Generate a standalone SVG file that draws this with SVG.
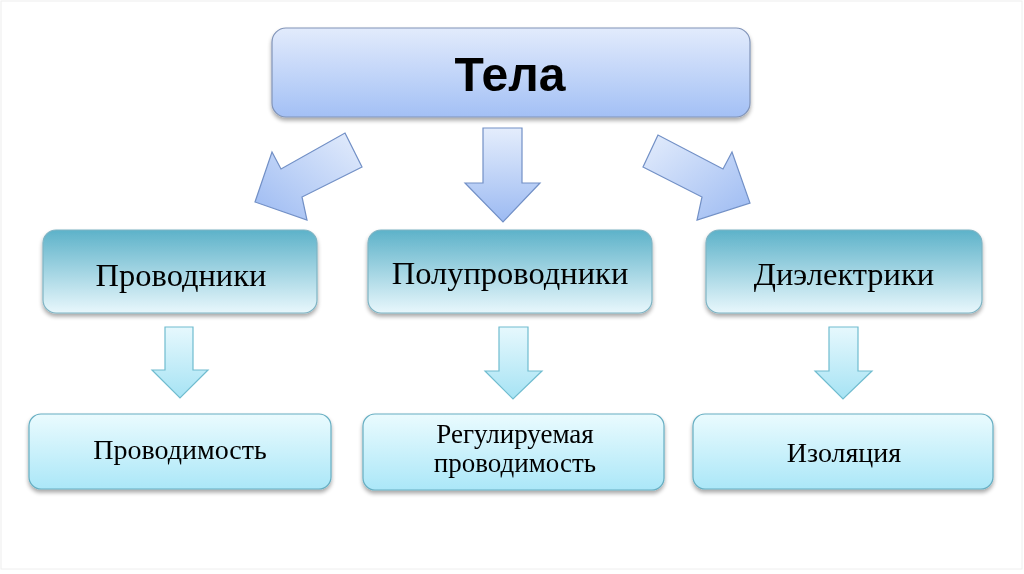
<svg xmlns="http://www.w3.org/2000/svg" width="1024" height="574" viewBox="0 0 1024 574">
<defs>
<linearGradient id="gTop" x1="0" y1="0" x2="0" y2="1">
<stop offset="0" stop-color="#e2ebfc"/><stop offset="1" stop-color="#a3c0f5"/>
</linearGradient>
<linearGradient id="gMid" x1="0" y1="0" x2="0" y2="1">
<stop offset="0" stop-color="#5db2c9"/><stop offset="1" stop-color="#e8f7fc"/>
</linearGradient>
<linearGradient id="gBot" x1="0" y1="0" x2="0" y2="1">
<stop offset="0" stop-color="#eafbfe"/><stop offset="1" stop-color="#abe7f8"/>
</linearGradient>
<linearGradient id="gArr" x1="0" y1="0" x2="0" y2="1">
<stop offset="0" stop-color="#e4edfc"/><stop offset="1" stop-color="#9cbaf2"/>
</linearGradient>
<linearGradient id="gArrL" x1="1" y1="0" x2="0" y2="1">
<stop offset="0" stop-color="#e4edfc"/><stop offset="1" stop-color="#9cbaf2"/>
</linearGradient>
<linearGradient id="gArrR" x1="0" y1="0" x2="1" y2="1">
<stop offset="0" stop-color="#e4edfc"/><stop offset="1" stop-color="#9cbaf2"/>
</linearGradient>
<linearGradient id="gSm" x1="0" y1="0" x2="0" y2="1">
<stop offset="0" stop-color="#e6f8fd"/><stop offset="1" stop-color="#a6e3f4"/>
</linearGradient>
<filter id="sh" x="-10%" y="-20%" width="120%" height="150%">
<feGaussianBlur in="SourceAlpha" stdDeviation="2"/>
<feOffset dx="0" dy="3" result="b"/>
<feComponentTransfer><feFuncA type="linear" slope="0.35"/></feComponentTransfer>
<feMerge><feMergeNode/><feMergeNode in="SourceGraphic"/></feMerge>
</filter>
</defs>
<style>
.top{fill:url(#gTop);stroke:#8194b8;stroke-width:1.2}
.mid{fill:url(#gMid);stroke:#7fb4c4;stroke-width:1.2}
.bot{fill:url(#gBot);stroke:#66aec2;stroke-width:1.2}
.arr{stroke:#7290c6;stroke-width:1.2}
.sm{fill:url(#gSm);stroke:#70bccf;stroke-width:1.2}
.t1{font-family:"Liberation Sans",Arial,sans-serif;font-weight:bold;font-size:48px;fill:#000}
.t2{font-family:"Liberation Serif","Times New Roman",serif;font-size:32.5px;fill:#000}
.t3{font-family:"Liberation Serif","Times New Roman",serif;font-size:28px;fill:#000}
.t4{font-family:"Liberation Serif","Times New Roman",serif;font-size:27px;fill:#000}
</style>
<rect x="1" y="1" width="1021" height="568" fill="#fff" stroke="#eeeeee" stroke-width="1"/>

<g id="connectors">
<polygon class="arr" fill="url(#gArrL)" points="345,133 362,167 302,197 307,220 255,202 272,152 281,169"/>
<polygon class="arr" fill="url(#gArr)" points="483,128 522,128 522,183 540,183 503,222 465,183 483,183"/>
<polygon class="arr" fill="url(#gArrR)" points="658,135 643,167 702,197 697,220 750,203 732,152 723,169"/>
<polygon class="sm" points="165,327 193,327 193,370 208,370 180,398 152,370 165,370"/>
<polygon class="sm" points="499,327 528,327 528,371 542,371 513,399 485,371 499,371"/>
<polygon class="sm" points="829,327 858,327 858,371 872,371 843,399 815,371 829,371"/>
</g>

<g id="node-tela" filter="url(#sh)">
<rect class="top" x="272" y="28" width="478" height="89" rx="14"/>
<text class="t1" x="510" y="91" text-anchor="middle">Тела</text>
</g>

<g id="node-provodniki" filter="url(#sh)">
<rect class="mid" x="43" y="230" width="274" height="83" rx="13"/>
<text class="t2" x="181" y="286" text-anchor="middle">Проводники</text>
</g>
<g id="node-poluprovodniki" filter="url(#sh)">
<rect class="mid" x="368" y="230" width="284" height="83" rx="13"/>
<text class="t2" x="510" y="284" text-anchor="middle">Полупроводники</text>
</g>
<g id="node-dielektriki" filter="url(#sh)">
<rect class="mid" x="706" y="230" width="276" height="83" rx="13"/>
<text class="t2" x="844" y="285" text-anchor="middle">Диэлектрики</text>
</g>

<g id="node-provodimost" filter="url(#sh)">
<rect class="bot" x="29" y="414" width="302" height="75" rx="12"/>
<text class="t3" x="180" y="459" text-anchor="middle">Проводимость</text>
</g>
<g id="node-reg" filter="url(#sh)">
<rect class="bot" x="363" y="414" width="301" height="76" rx="12"/>
<text class="t4" x="515" y="443" text-anchor="middle">Регулируемая</text>
<text class="t4" x="515" y="472" text-anchor="middle">проводимость</text>
</g>
<g id="node-izolyaciya" filter="url(#sh)">
<rect class="bot" x="693" y="414" width="300" height="75" rx="12"/>
<text class="t3" x="844" y="462" text-anchor="middle">Изоляция</text>
</g>
</svg>
